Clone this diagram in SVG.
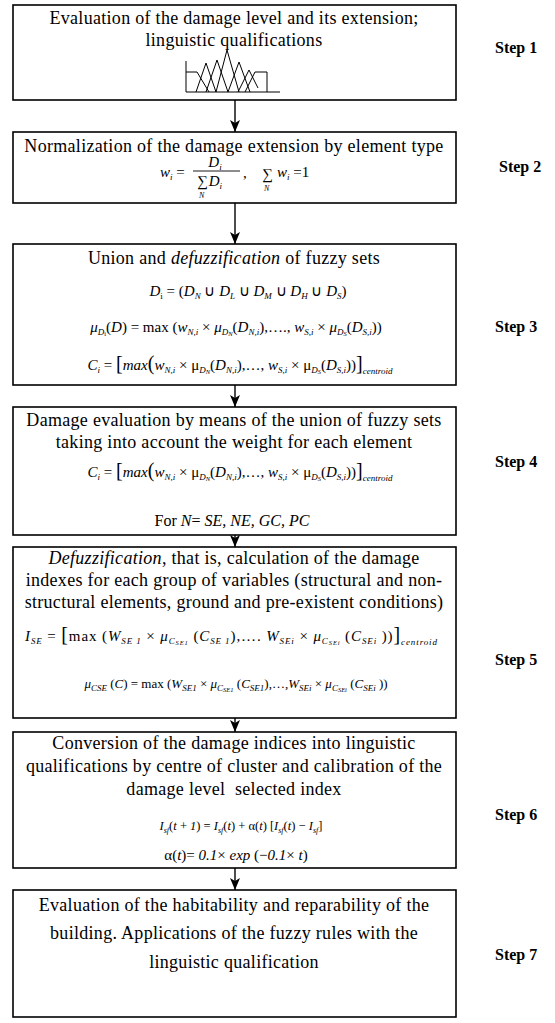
<svg xmlns="http://www.w3.org/2000/svg" width="555" height="1023" viewBox="0 0 555 1023">
<style>
.box{fill:#fff;stroke:#000;stroke-width:1.6}
.t{font-family:"Liberation Serif","Times New Roman",serif;font-size:18px;letter-spacing:0.3px;fill:#000}
.f{font-family:"Liberation Serif","Times New Roman",serif;font-size:15px;fill:#000}
.i{font-style:italic}
.s{font-size:9px}
.ss{font-size:6.5px}
.n{font-size:8px;font-style:italic}
.big{font-size:20px}
.step{font-family:"Liberation Serif","Times New Roman",serif;font-size:16px;font-weight:bold;fill:#000}
.con{stroke:#000;stroke-width:1.4;fill:none}
.plot{stroke:#000;stroke-width:1;fill:none}
</style>
<defs>
<marker id="ah" viewBox="0 0 12 10" refX="12" refY="5" markerWidth="12" markerHeight="10" markerUnits="userSpaceOnUse" orient="auto">
<path d="M0,0 L12,5 L0,10 L3,5 z" fill="#000"/>
</marker>
</defs>
<rect width="555" height="1023" fill="#fff"/>

<g id="connectors">
<line class="con" x1="235" y1="100" x2="235" y2="132" marker-end="url(#ah)"/>
<line class="con" x1="235" y1="203" x2="235" y2="244" marker-end="url(#ah)"/>
<line class="con" x1="235" y1="385" x2="235" y2="407" marker-end="url(#ah)"/>
<line class="con" x1="235" y1="535" x2="235" y2="547" marker-end="url(#ah)"/>
<line class="con" x1="235" y1="718" x2="235" y2="732" marker-end="url(#ah)"/>
<line class="con" x1="235" y1="868" x2="235" y2="890" marker-end="url(#ah)"/>
</g>

<g id="step1">
<rect class="box" x="13" y="5" width="443" height="95"/>
<text class="t" x="234" y="24" text-anchor="middle">Evaluation of the damage level and its extension;</text>
<text class="t" x="234" y="46" text-anchor="middle">linguistic qualifications</text>
<path class="plot" d="M186,61 V92 H280"/>
<path class="plot" d="M186,72 H197 L209,92"/>
<path class="plot" d="M196,92 L206,63 L216,92"/>
<path class="plot" d="M206,92 L217,60 L228,92"/>
<path class="plot" d="M216,92 L227,50 L239,92"/>
<path class="plot" d="M228,92 L239,62 L250,92"/>
<path class="plot" d="M238,92 L249,70 L258,88"/>
<path class="plot" d="M245,92 L255,72 H267 V92"/>
<text class="step" x="495" y="53">Step 1</text>
</g>

<g id="step2">
<rect class="box" x="13" y="132" width="443" height="71"/>
<text class="t" x="234" y="152" text-anchor="middle">Normalization of the damage extension by element type</text>
<text class="f i" x="160" y="177">w<tspan class="s" dy="3">i</tspan><tspan dy="-3" font-style="normal"> =</tspan></text>
<text class="f i" x="215" y="167" text-anchor="middle">D<tspan class="s" dy="3">i</tspan></text>
<line x1="193" y1="171" x2="240" y2="171" stroke="#000" stroke-width="0.9"/>
<text class="f" x="197" y="186">∑<tspan class="i" dx="1">D</tspan><tspan class="s i" dy="3">i</tspan><tspan class="n" x="199" dy="9">N</tspan></text>
<text class="f" x="243" y="178">,</text>
<text class="f" x="262" y="179">∑<tspan class="n" x="264" dy="12">N</tspan><tspan class="i" x="277" dy="-14">w</tspan><tspan class="s i" dy="3">i</tspan><tspan dy="-3"> =1</tspan></text>
<text class="step" x="499" y="172">Step 2</text>
</g>

<g id="step3">
<rect class="box" x="13" y="244" width="443" height="141"/>
<text class="t" x="234" y="264" text-anchor="middle">Union and <tspan class="i">defuzzification</tspan> of fuzzy sets</text>
<text class="f" x="248" y="296" text-anchor="middle"><tspan class="i">D</tspan><tspan class="s" dy="3">i</tspan><tspan dy="-3"> = (</tspan><tspan class="i">D</tspan><tspan class="s i" dy="3">N</tspan><tspan dy="-3"> ∪ </tspan><tspan class="i">D</tspan><tspan class="s i" dy="3">L</tspan><tspan dy="-3"> ∪ </tspan><tspan class="i">D</tspan><tspan class="s i" dy="3">M</tspan><tspan dy="-3"> ∪ </tspan><tspan class="i">D</tspan><tspan class="s i" dy="3">H</tspan><tspan dy="-3"> ∪ </tspan><tspan class="i">D</tspan><tspan class="s i" dy="3">S</tspan><tspan dy="-3">)</tspan></text>
<text class="f" x="236" y="332" text-anchor="middle"><tspan class="i">μ</tspan><tspan class="s i" dy="3">D</tspan><tspan class="ss" dy="1">i</tspan><tspan dy="-4">(</tspan><tspan class="i">D</tspan><tspan>) = max (</tspan><tspan class="i">w</tspan><tspan class="s i" dy="3">N,i</tspan><tspan dy="-3"> × </tspan><tspan class="i">μ</tspan><tspan class="s i" dy="3">D</tspan><tspan class="ss i" dy="1">N</tspan><tspan dy="-4">(</tspan><tspan class="i">D</tspan><tspan class="s i" dy="3">N,i</tspan><tspan dy="-3">),…., </tspan><tspan class="i">w</tspan><tspan class="s i" dy="3">S,i</tspan><tspan dy="-3"> × </tspan><tspan class="i">μ</tspan><tspan class="s i" dy="3">D</tspan><tspan class="ss i" dy="1">S</tspan><tspan dy="-4">(</tspan><tspan class="i">D</tspan><tspan class="s i" dy="3">S,i</tspan><tspan dy="-3">))</tspan></text>
<text class="f" x="240" y="370" text-anchor="middle"><tspan class="i">C</tspan><tspan class="s i" dy="3">i</tspan><tspan dy="-3"> = </tspan><tspan class="big">[</tspan><tspan class="i">max</tspan><tspan class="big">(</tspan><tspan class="i">w</tspan><tspan class="s i" dy="3">N,i</tspan><tspan dy="-3"> × μ</tspan><tspan class="s i" dy="3">D</tspan><tspan class="ss i" dy="1">N</tspan><tspan dy="-4">(</tspan><tspan class="i">D</tspan><tspan class="s i" dy="3">N,i</tspan><tspan dy="-3">),…, </tspan><tspan class="i">w</tspan><tspan class="s i" dy="3">S,i</tspan><tspan dy="-3"> × μ</tspan><tspan class="s i" dy="3">D</tspan><tspan class="ss i" dy="1">S</tspan><tspan dy="-4">(</tspan><tspan class="i">D</tspan><tspan class="s i" dy="3">S,i</tspan><tspan dy="-3">))</tspan><tspan class="big">]</tspan><tspan class="s i" dy="4">centroid</tspan></text>
<text class="step" x="495" y="332">Step 3</text>
</g>

<g id="step4">
<rect class="box" x="13" y="407" width="443" height="128"/>
<text class="t" x="234" y="426" text-anchor="middle">Damage evaluation by means of the union of fuzzy sets</text>
<text class="t" x="234" y="448" text-anchor="middle">taking into account the weight for each element</text>
<text class="f" x="240" y="477" text-anchor="middle"><tspan class="i">C</tspan><tspan class="s i" dy="3">i</tspan><tspan dy="-3"> = </tspan><tspan class="big">[</tspan><tspan class="i">max</tspan><tspan class="big">(</tspan><tspan class="i">w</tspan><tspan class="s i" dy="3">N,i</tspan><tspan dy="-3"> × μ</tspan><tspan class="s i" dy="3">D</tspan><tspan class="ss i" dy="1">N</tspan><tspan dy="-4">(</tspan><tspan class="i">D</tspan><tspan class="s i" dy="3">N,i</tspan><tspan dy="-3">),…, </tspan><tspan class="i">w</tspan><tspan class="s i" dy="3">S,i</tspan><tspan dy="-3"> × μ</tspan><tspan class="s i" dy="3">D</tspan><tspan class="ss i" dy="1">S</tspan><tspan dy="-4">(</tspan><tspan class="i">D</tspan><tspan class="s i" dy="3">S,i</tspan><tspan dy="-3">))</tspan><tspan class="big">]</tspan><tspan class="s i" dy="4">centroid</tspan></text>
<text class="f" x="232" y="526" text-anchor="middle" style="font-size:16px">For <tspan class="i">N</tspan>= <tspan class="i">SE, NE, GC, PC</tspan></text>
<text class="step" x="495" y="467">Step 4</text>
</g>

<g id="step5">
<rect class="box" x="13" y="547" width="443" height="171"/>
<text class="t" x="234" y="564" text-anchor="middle"><tspan class="i">Defuzzification</tspan>, that is, calculation of the damage</text>
<text class="t" x="234" y="586" text-anchor="middle">indexes for each group of variables (structural and non-</text>
<text class="t" x="234" y="608" text-anchor="middle">structural elements, ground and pre-existent conditions)</text>
<text class="f" x="25" y="641" textLength="412" lengthAdjust="spacing"><tspan class="i">I</tspan><tspan class="s i" dy="3">SE</tspan><tspan dy="-3"> = </tspan><tspan class="big">[</tspan><tspan>max (</tspan><tspan class="i">W</tspan><tspan class="s i" dy="3">SE 1</tspan><tspan dy="-3"> × </tspan><tspan class="i">μ</tspan><tspan class="s i" dy="3">C</tspan><tspan class="ss i" dy="1">SE1</tspan><tspan dy="-4"> (</tspan><tspan class="i">C</tspan><tspan class="s i" dy="3">SE 1</tspan><tspan dy="-3">),…. </tspan><tspan class="i">W</tspan><tspan class="s i" dy="3">SEi</tspan><tspan dy="-3"> × </tspan><tspan class="i">μ</tspan><tspan class="s i" dy="3">C</tspan><tspan class="ss i" dy="1">SEi</tspan><tspan dy="-4"> (</tspan><tspan class="i">C</tspan><tspan class="s i" dy="3">SEi</tspan><tspan dy="-3"> ))</tspan><tspan class="big">]</tspan><tspan class="s i" dy="4">centroid</tspan></text>
<text class="f" x="236" y="688" text-anchor="middle" style="font-size:13px"><tspan class="i">μ</tspan><tspan class="s i" dy="3">CSE</tspan><tspan dy="-3"> (</tspan><tspan class="i">C</tspan><tspan>) = max (</tspan><tspan class="i">W</tspan><tspan class="s i" dy="3">SE1</tspan><tspan dy="-3"> × </tspan><tspan class="i">μ</tspan><tspan class="s i" dy="3">C</tspan><tspan class="ss i" dy="1">SE1</tspan><tspan dy="-4"> (</tspan><tspan class="i">C</tspan><tspan class="s i" dy="3">SE1</tspan><tspan dy="-3">),…,</tspan><tspan class="i">W</tspan><tspan class="s i" dy="3">SEi</tspan><tspan dy="-3"> × </tspan><tspan class="i">μ</tspan><tspan class="s i" dy="3">C</tspan><tspan class="ss i" dy="1">SEi</tspan><tspan dy="-4"> (</tspan><tspan class="i">C</tspan><tspan class="s i" dy="3">SEi</tspan><tspan dy="-3"> ))</tspan></text>
<text class="step" x="495" y="665">Step 5</text>
</g>

<g id="step6">
<rect class="box" x="13" y="732" width="443" height="136"/>
<text class="t" x="234" y="749" text-anchor="middle">Conversion of the damage indices into linguistic</text>
<text class="t" x="234" y="772" text-anchor="middle">qualifications by centre of cluster and calibration of the</text>
<text class="t" x="234" y="795" text-anchor="middle" xml:space="preserve">damage level  selected index</text>
<text class="f" x="241" y="830" text-anchor="middle" style="font-size:12.5px"><tspan class="i">I</tspan><tspan class="i" dy="3" style="font-size:8px">sf</tspan><tspan dy="-3">(</tspan><tspan class="i">t</tspan><tspan> + </tspan><tspan class="i">1</tspan><tspan>) = </tspan><tspan class="i">I</tspan><tspan class="i" dy="3" style="font-size:8px">sf</tspan><tspan dy="-3">(</tspan><tspan class="i">t</tspan><tspan>) + α(</tspan><tspan class="i">t</tspan><tspan>) [</tspan><tspan class="i">I</tspan><tspan class="i" dy="3" style="font-size:8px">sf</tspan><tspan dy="-3">(</tspan><tspan class="i">t</tspan><tspan>) − </tspan><tspan class="i">I</tspan><tspan class="i" dy="3" style="font-size:8px">sf</tspan><tspan dy="-3">]</tspan></text>
<text class="f" x="236" y="860" text-anchor="middle"><tspan>α(</tspan><tspan class="i">t</tspan><tspan>)= </tspan><tspan class="i">0.1</tspan><tspan>× </tspan><tspan class="i">exp</tspan><tspan> (−</tspan><tspan class="i">0.1</tspan><tspan>× </tspan><tspan class="i">t</tspan><tspan>)</tspan></text>
<text class="step" x="495" y="820">Step 6</text>
</g>

<g id="step7">
<rect class="box" x="13" y="890" width="443" height="127"/>
<text class="t" x="234" y="911" text-anchor="middle">Evaluation of the habitability and reparability of the</text>
<text class="t" x="234" y="939" text-anchor="middle">building. Applications of the fuzzy rules with the</text>
<text class="t" x="234" y="968" text-anchor="middle">linguistic qualification</text>
<text class="step" x="495" y="960">Step 7</text>
</g>
</svg>
